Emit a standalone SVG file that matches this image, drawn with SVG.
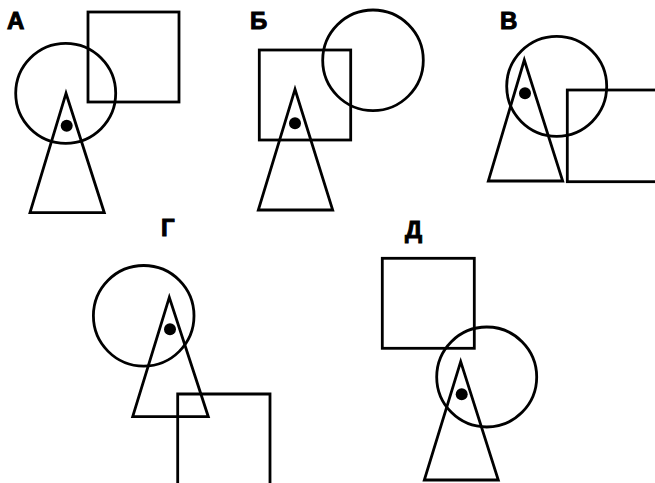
<svg xmlns="http://www.w3.org/2000/svg" width="655" height="483" viewBox="0 0 655 483">
<style>
.s{fill:none;stroke:#000;stroke-width:2.8;stroke-linejoin:miter}
.d{fill:#000}
.l{font-family:"Liberation Sans",Arial,sans-serif;font-weight:bold;font-size:24px;fill:#000;stroke:#000;stroke-width:1}
</style>
<rect width="655" height="483" fill="#fff"/>
<g id="fig-A">
<text class="l" x="7" y="29">А</text>
<rect class="s" x="88" y="12" width="91" height="90"/>
<circle class="s" cx="65.7" cy="93.3" r="50"/>
<polygon class="s" points="66,93.3 30,212.7 104.3,212.7"/>
<circle class="d" cx="66.7" cy="125.7" r="6"/>
</g>
<g id="fig-B">
<text class="l" x="250" y="29">Б</text>
<rect class="s" x="259.3" y="50" width="91.4" height="90"/>
<circle class="s" cx="373" cy="60.3" r="50.3"/>
<polygon class="s" points="295,89.3 258.3,210 332.7,210"/>
<circle class="d" cx="295" cy="123.3" r="6"/>
</g>
<g id="fig-V">
<text class="l" x="500" y="29">В</text>
<rect class="s" x="567.3" y="90" width="95" height="91.7"/>
<circle class="s" cx="556.7" cy="86.3" r="50"/>
<polygon class="s" points="524.3,60 488.3,181 562.7,181"/>
<circle class="d" cx="525" cy="93.3" r="6"/>
</g>
<g id="fig-G">
<text class="l" x="161" y="236">Г</text>
<circle class="s" cx="143.7" cy="315.8" r="50.3"/>
<polygon class="s" points="169.3,297.3 132.7,416.7 208.3,416.7"/>
<circle class="d" cx="170" cy="329.3" r="6"/>
<polyline class="s" points="177.7,490 177.7,394 270,394 270,490"/>
</g>
<g id="fig-D">
<text class="l" x="405" y="238">Д</text>
<rect class="s" x="382.3" y="258.3" width="92" height="90"/>
<circle class="s" cx="486.7" cy="377" r="50"/>
<polygon class="s" points="460.7,361.7 424.3,480 498.3,480"/>
<circle class="d" cx="461.7" cy="394.3" r="6"/>
</g>
</svg>
